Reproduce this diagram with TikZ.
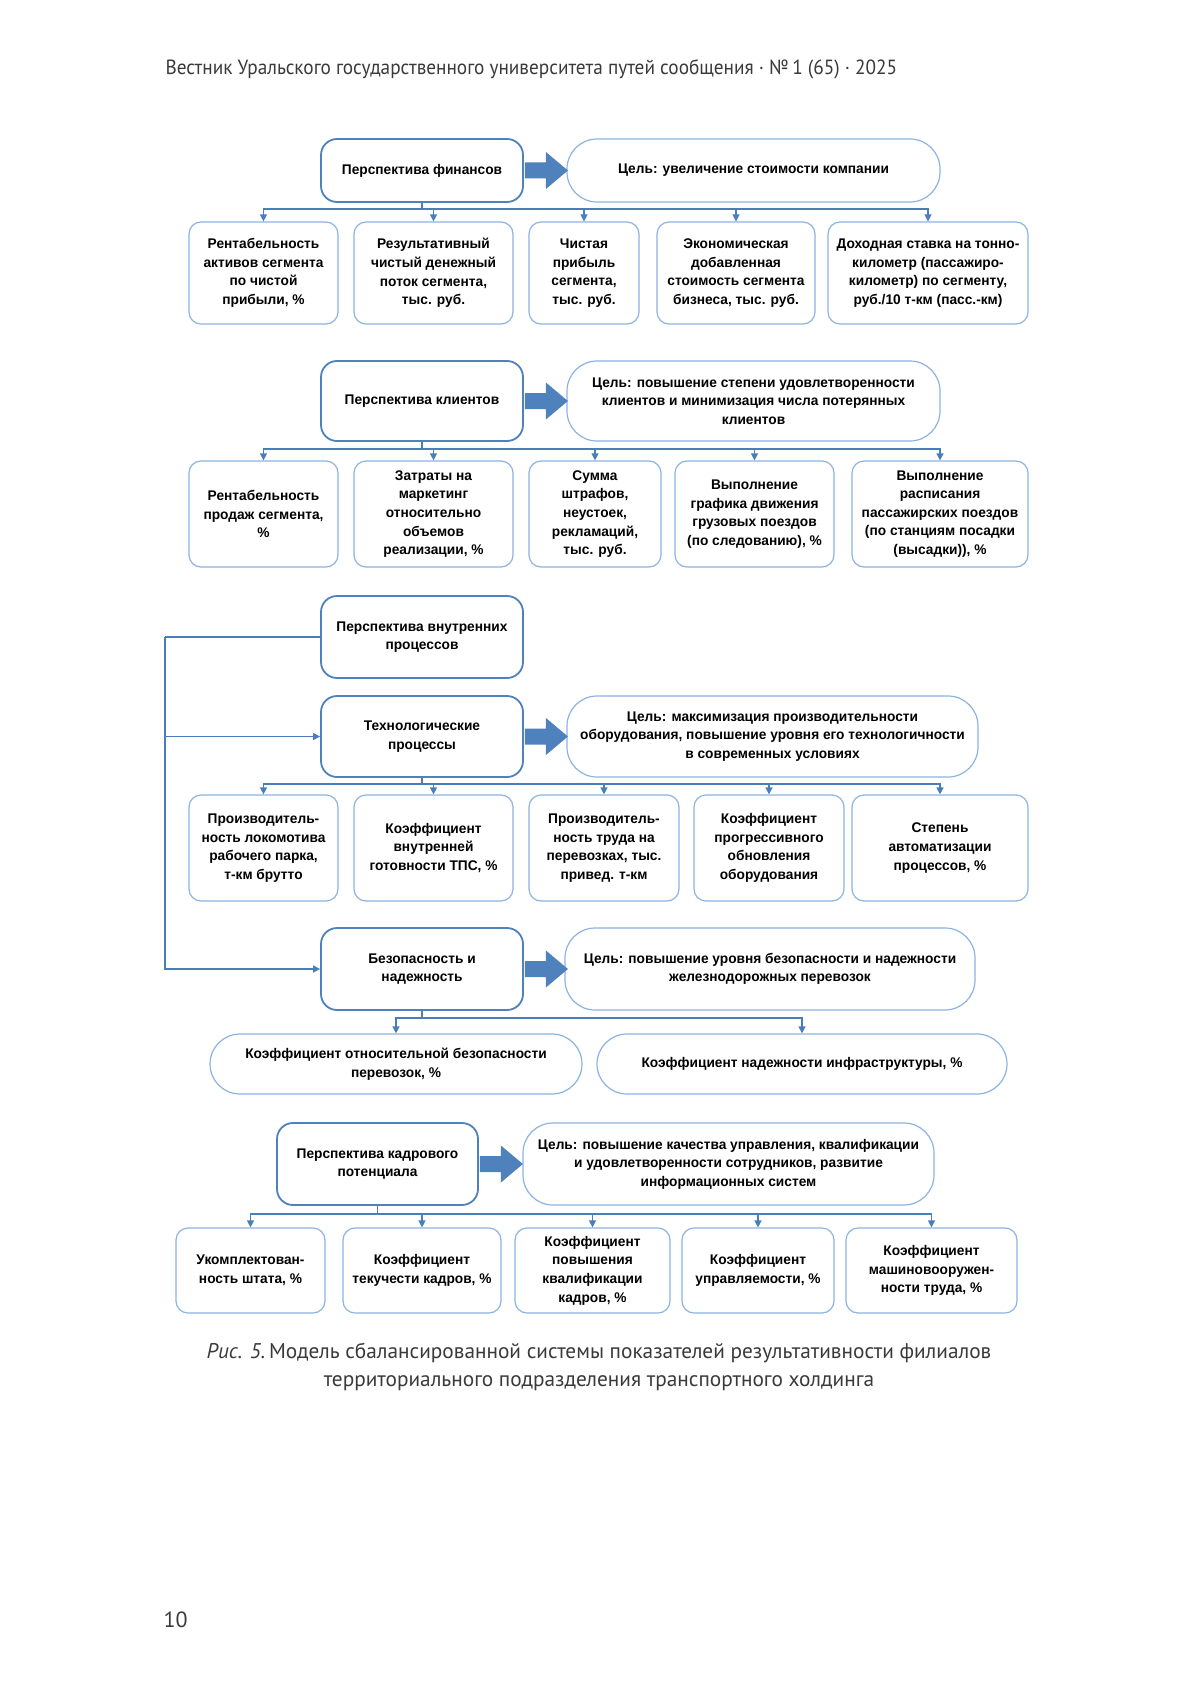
\documentclass[tikz,border=0pt]{standalone}
\usepackage{fontspec}
\setmainfont{Liberation Sans}
\newfontfamily\bxf[FakeStretch=0.98]{Liberation Sans}
\newfontfamily\hdf[FakeStretch=0.94]{PT Sans}
\newfontfamily\capf{PT Sans}
\usetikzlibrary{arrows.meta,calc}
\definecolor{persb}{HTML}{4F81BD}
\definecolor{lightb}{HTML}{8DB3E2}
\definecolor{linec}{HTML}{4A7EBB}
\definecolor{arrc}{HTML}{4F81BD}
\definecolor{txtg}{HTML}{3A3A3A}
\tikzset{fatarr/.pic={\fill[arrc] (0,-8) -- (21,-8) -- (21,-18.5) -- (43,0) -- (21,18.5) -- (21,8) -- (0,8) -- cycle;}}
\begin{document}
\begin{tikzpicture}[x=1pt,y=-1pt,
 boxtxt/.style={align=center, font=\bxf\bfseries\fontsize{14}{18.6}\selectfont, inner sep=2pt},
 persp/.style={boxtxt, draw=persb, line width=1.8pt, rounded corners=16pt},
 goal/.style={boxtxt, draw=lightb, line width=1.2pt, rounded corners=30pt},
 metric/.style={boxtxt, draw=lightb, line width=1.2pt, rounded corners=12pt},
 conn/.style={draw=linec, line width=1.3pt, -{Triangle[length=7pt,width=7pt]}},
 link/.style={draw=linec, line width=1.3pt},
 sz/.style 2 args={minimum width=#1pt, minimum height=#2pt},
]
\fill[white] (0,0) rectangle (1200,1704);
\path[use as bounding box] (0,0) rectangle (1200,1704);

\node[font=\hdf\fontsize{20.5}{24}\selectfont, text=txtg, anchor=west] (hdr) at (162,69) {Вестник Уральского государственного университета путей сообщения · №\,1 (65) · 2025};

% ---------- Row 1: finances
\node[persp, sz={202}{63}] (p1) at (422,170.5) {Перспектива финансов};
\node[goal, sz={373}{63}] (g1) at (753.5,170.5) {Цель: увеличение стоимости компании};
\pic at ($(p1.east)+(1,0)$) {fatarr};
\coordinate (b1) at (0,209);
\node[metric, sz={149}{102}] (f1) at (263.5,273) {Рентабельность\\активов сегмента\\по чистой\\прибыли, \%};
\node[metric, sz={159}{102}] (f2) at (433.5,273) {Результативный\\чистый денежный\\поток сегмента,\\тыс. руб.};
\node[metric, sz={110}{102}] (f3) at (584,273) {Чистая\\прибыль\\сегмента,\\тыс. руб.};
\node[metric, sz={158}{102}] (f4) at (736,273) {Экономическая\\добавленная\\стоимость сегмента\\бизнеса, тыс. руб.};
\node[metric, sz={200}{102}] (f5) at (928,273) {Доходная ставка на тонно-\\километр (пассажиро-\\километр) по сегменту,\\руб./10 т-км (пасс.-км)};
\foreach \t in {f1,f2,f3,f4,f5}{\draw[conn] (p1.south) -- (p1.south |- b1) -| (\t.north);}

% ---------- Row 2: clients
\node[persp, sz={202}{80}] (p2) at (422,401) {Перспектива клиентов};
\node[goal, sz={373}{80}] (g2) at (753.5,401) {Цель: повышение степени удовлетворенности\\клиентов и минимизация числа потерянных\\клиентов};
\pic at ($(p2.east)+(1,0)$) {fatarr};
\coordinate (b2) at (0,449);
\node[metric, sz={149}{106}] (c1) at (263.5,514) {Рентабельность\\продаж сегмента,\\\%};
\node[metric, sz={159}{106}] (c2) at (433.5,514) {Затраты на\\маркетинг\\относительно\\объемов\\реализации, \%};
\node[metric, sz={132}{106}] (c3) at (595,514) {Сумма\\штрафов,\\неустоек,\\рекламаций,\\тыс. руб.};
\node[metric, sz={159}{106}] (c4) at (754.5,514) {Выполнение\\графика движения\\грузовых поездов\\(по следованию), \%};
\node[metric, sz={176}{106}] (c5) at (940,514) {Выполнение\\расписания\\пассажирских поездов\\(по станциям посадки\\(высадки)), \%};
\foreach \t in {c1,c2,c3,c4,c5}{\draw[conn] (p2.south) -- (p2.south |- b2) -| (\t.north);}

% ---------- Row 3: internal processes
\node[persp, sz={202}{82}] (p3) at (422,637) {Перспектива внутренних\\процессов};
\node[persp, sz={202}{81}] (tp) at (422,736.5) {Технологические\\процессы};
\node[goal, sz={411}{81}] (g3) at (772.5,736.5) {Цель: максимизация производительности\\оборудования, повышение уровня его технологичности\\в современных условиях};
\pic at ($(tp.east)+(1,0)$) {fatarr};
\coordinate (lft) at (165,637);
\coordinate (b3) at (0,784);
\node[metric, sz={149}{106}] (t1) at (263.5,848) {Производитель-\\ность локомотива\\рабочего парка,\\т-км брутто};
\node[metric, sz={159}{106}] (t2) at (433.5,848) {Коэффициент\\внутренней\\готовности ТПС, \%};
\node[metric, sz={150}{106}] (t3) at (604,848) {Производитель-\\ность труда на\\перевозках, тыс.\\привед. т-км};
\node[metric, sz={150}{106}] (t4) at (769,848) {Коэффициент\\прогрессивного\\обновления\\оборудования};
\node[metric, sz={176}{106}] (t5) at (940,848) {Степень\\автоматизации\\процессов, \%};
\foreach \t in {t1,t2,t3,t4,t5}{\draw[conn] (tp.south) -- (tp.south |- b3) -| (\t.north);}

% ---------- Row 4: safety
\node[persp, sz={202}{82}] (sf) at (422,969) {Безопасность и\\надежность};
\node[goal, sz={410}{82}] (g4) at (770,969) {Цель: повышение уровня безопасности и надежности\\железнодорожных перевозок};
\pic at ($(sf.east)+(1,0)$) {fatarr};
\coordinate (b4) at (0,1018);
\node[goal, sz={372}{60}] (s1) at (396,1064) {Коэффициент относительной безопасности\\перевозок, \%};
\node[goal, sz={410}{60}] (s2) at (802,1064) {Коэффициент надежности инфраструктуры, \%};
\foreach \t in {s1,s2}{\draw[conn] (sf.south) -- (sf.south |- b4) -| (\t.north);}

\draw[link] (p3.west) -- (lft);
\draw[conn] (lft) |- (tp.west);
\draw[conn] (lft) |- (sf.west);

% ---------- Row 5: personnel
\node[persp, sz={201}{82}] (kp) at (377.5,1164) {Перспектива кадрового\\потенциала};
\node[goal, sz={411}{82}] (g5) at (728.5,1164) {Цель: повышение качества управления, квалификации\\и удовлетворенности сотрудников, развитие\\информационных систем};
\pic at ($(kp.east)+(1,0)$) {fatarr};
\coordinate (b5) at (0,1214);
\node[metric, sz={149}{85}] (k1) at (250.5,1270.5) {Укомплектован-\\ность штата, \%};
\node[metric, sz={158}{85}] (k2) at (422,1270.5) {Коэффициент\\текучести кадров, \%};
\node[metric, sz={155}{85}] (k3) at (592.5,1270.5) {Коэффициент\\повышения\\квалификации\\кадров, \%};
\node[metric, sz={152}{85}] (k4) at (758,1270.5) {Коэффициент\\управляемости, \%};
\node[metric, sz={171}{85}] (k5) at (931.5,1270.5) {Коэффициент\\машиновооружен-\\ности труда, \%};
\foreach \t in {k1,k2,k3,k4,k5}{\draw[conn] (kp.south) -- (kp.south |- b5) -| (\t.north);}

% ---------- caption and page number
\node[font=\capf\fontsize{21.3}{27.5}\selectfont, text=txtg, align=center] (cap) at (599,1367) {\textit{Рис. 5.}\,Модель сбалансированной системы показателей результативности филиалов\\территориального подразделения транспортного холдинга};
\node[font=\capf\fontsize{22}{26}\selectfont, text=txtg, anchor=west] (pg) at (160,1620) {10};
\end{tikzpicture}
\end{document}
